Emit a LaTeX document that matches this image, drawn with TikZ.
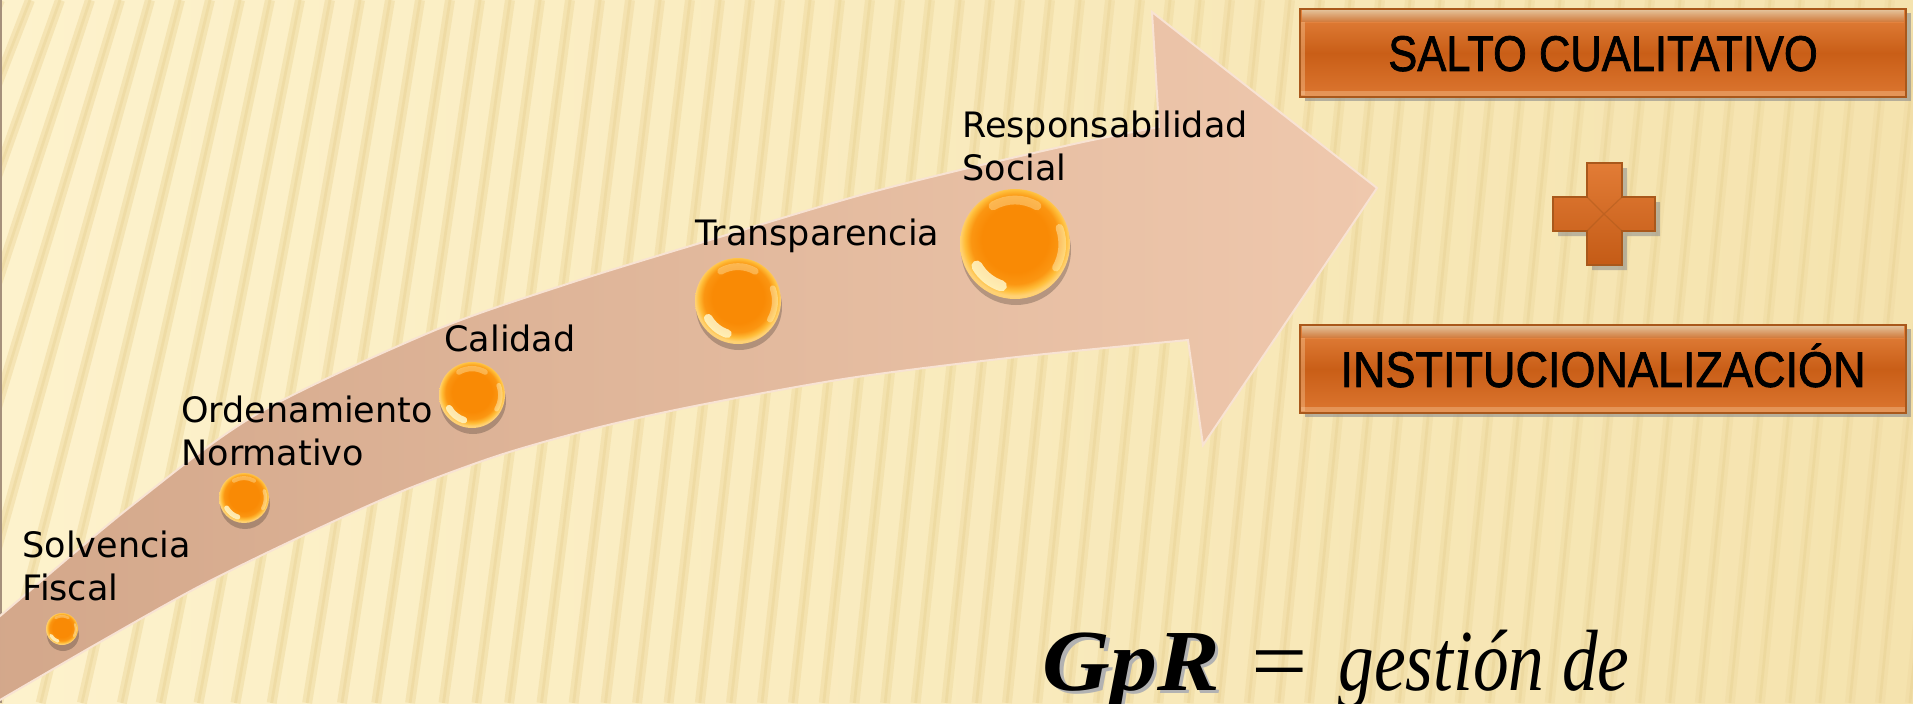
\documentclass[tikz,border=0pt]{standalone}
\usepackage{fontspec}
\setmainfont{Liberation Serif}
\newfontfamily\labelfont{DejaVu Sans}
\newfontfamily\boxfont[FakeBold=1.6]{Liberation Sans}
\usetikzlibrary{calc,shadows}

\definecolor{bgA}{HTML}{FDF2CC}
\definecolor{bgB}{HTML}{F5E3AE}
\definecolor{stripeA}{HTML}{F0DCA4}
\definecolor{stripeB}{HTML}{E6CE8E}
\definecolor{bandL}{HTML}{D3A78A}
\definecolor{bandR}{HTML}{EFC8AD}
\definecolor{bandEdge}{HTML}{F8E3D3}
\definecolor{orbC}{HTML}{F98A05}
\definecolor{orbM}{HTML}{FB9612}
\definecolor{orbE}{HTML}{FFBE3A}
\definecolor{orbShine}{HTML}{FFF6C8}
\definecolor{boxTop}{HTML}{E5843F}
\definecolor{boxMid}{HTML}{C95E17}
\definecolor{boxBot}{HTML}{DC7630}
\definecolor{boxLine}{HTML}{A9581B}
\definecolor{boxGlow}{HTML}{FAD3A6}
\definecolor{plusTop}{HTML}{E27C36}
\definecolor{plusBot}{HTML}{C45B16}

\pgfdeclareradialshading{orb}{\pgfpoint{0bp}{3bp}}{color(0bp)=(orbC); color(15bp)=(orbC); color(20bp)=(orbM); color(23bp)=(orbE); color(25bp)=(orbE!70!white); color(50bp)=(orbE)}

\tikzset{
  lbl/.style={font=\labelfont\fontsize{17.5pt}{21.5pt}\selectfont, anchor=base west, inner sep=0pt, align=left, text=black},
  orbnode/.style={circle, shading=orb, inner sep=0pt, drop shadow={shadow xshift=0.5pt, shadow yshift=-3pt, fill=black, opacity=0.22}},
  orbshine/.style={orbShine, opacity=0.85, line cap=round},
  stepbox/.style={rectangle, draw=boxLine, line width=0.8pt, minimum width=303pt, minimum height=44pt,
    top color=boxTop, bottom color=boxBot, middle color=boxMid, inner sep=0pt,
    font=\boxfont\fontsize{25pt}{28pt}\selectfont, text height=17.9pt, text depth=0pt,
    drop shadow={shadow xshift=2.5pt, shadow yshift=-2pt, fill=black!45, opacity=0.6}},
  stripe/.style={stripeA, line width=5pt, opacity=0.6},
  stripecore/.style={stripeB, line width=1.4pt, opacity=0.35}
}

\begin{document}
\begin{tikzpicture}[x=0.5pt, y=-0.5pt]
\useasboundingbox (0,0) rectangle (1913,703);
\clip (0,0) rectangle (1913,703);

% background
\fill[left color=bgA, right color=bgB] (0,0) rectangle (1913,703);
\foreach \k in {0,...,66} {
  \pgfmathsetmacro{\xt}{\k*30}
  \pgfmathsetmacro{\xb}{\xt-70-230*exp(-\xt/250)}
  \draw[stripe] (\xt,0) -- (\xb,703);
  \draw[stripecore] (\xt,0) -- (\xb,703);
}
\draw[black!45!brown!60, line width=1pt] (1,0) -- (1,703);

% curved arrow
\path[left color=bandL, right color=bandR, draw=bandEdge, line width=1pt]
  plot[smooth, tension=0.5] coordinates {(-20,633) (0,616) (130,507) (257,414) (433,331) (567,284) (700,243) (850,198) (960,170) (1083,142) (1159,127)}
  -- (1152,12) -- (1377,188) -- (1203,445) -- (1188,340)
  -- plot[smooth, tension=0.5] coordinates {(1188,340) (1017,357) (850,378) (700,405) (600,427) (500,455) (400,492) (300,537) (200,586) (100,642) (0,700) (-20,712)}
  -- cycle;

% orbs
\foreach \n/\cx/\cy/\r in {1/62/629/16, 2/244/498/25, 3/472/395/33, 4/738/301/43, 5/1015/244/55} {
  \node[orbnode, minimum size=\r pt] (c\n) at (\cx,\cy) {};
  \draw[orbshine, line width=0.1*\r pt] ($(c\n.center)+(108:0.8*\r)$) arc[start angle=108, end angle=150, radius=0.8*\r];
  \draw[orbshine, opacity=0.45, line width=0.07*\r pt] ($(c\n.center)+(-20:0.86*\r)$) arc[start angle=-20, end angle=30, radius=0.86*\r];
  \draw[orbshine, opacity=0.35, line width=0.08*\r pt] ($(c\n.center)+(-120:0.8*\r)$) arc[start angle=-120, end angle=-60, radius=0.8*\r];
}

% labels
\node[lbl] (l1) at (22,600) {Solvencia\\Fiscal};
\node[lbl] (l2) at (181,465) {Ordenamiento\\Normativo};
\node[lbl] (l3) at (444,351) {Calidad};
\node[lbl] (l4) at (695,245) {Transparencia};
\node[lbl] (l5) at (962,180) {Responsabilidad\\Social};

% boxes
\node[stepbox] (salto) at (1603,53) {\scalebox{0.87}[1]{SALTO CUALITATIVO}};
\node[stepbox] (inst) at (1603,369) {\scalebox{0.9}[1]{INSTITUCIONALIZACIÓN}};
\foreach \b in {salto,inst} {
  \fill[top color=boxGlow, bottom color=boxTop, opacity=0.9] ($(\b.north west)+(3,2)$) rectangle ($(\b.north east)+(-3,14)$);
  \fill[boxGlow, opacity=0.35] ($(\b.north west)+(2,14)$) rectangle ($(\b.south west)+(6,-3)$);
  \fill[boxGlow, opacity=0.35] ($(\b.south west)+(2,-7)$) rectangle ($(\b.south east)+(-2,-2)$);
}

% plus sign
\fill[black!45, opacity=0.55] (1592,168) -- (1627,168) -- (1627,202) -- (1660,202) -- (1660,236) -- (1627,236) -- (1627,270) -- (1592,270) -- (1592,236) -- (1558,236) -- (1558,202) -- (1592,202) -- cycle;
\draw[top color=plusTop, bottom color=plusBot, draw=boxLine, line width=0.8pt]
  (1587,163) -- (1622,163) -- (1622,197) -- (1655,197) -- (1655,231) -- (1622,231) -- (1622,265) -- (1587,265) -- (1587,231) -- (1553,231) -- (1553,197) -- (1587,197) -- cycle;
\draw[boxLine, opacity=0.45, line width=0.6pt] (1587,197) -- (1604,214) -- (1622,197) (1587,231) -- (1604,214) -- (1622,231);

% bottom formula
\node[anchor=base west, inner sep=0pt, font=\fontsize{43.5pt}{50pt}\selectfont] (gpr) at (1042,690)
  {\rlap{\hspace{1.8pt}\raisebox{-1.8pt}{\color{black!30}\scalebox{1.08}[1]{\textbf{\textit{GpR}}}}}\scalebox{1.08}[1]{\textbf{\textit{GpR}}}\hspace{16pt}\scalebox{1.15}[1]{=}\hspace{15pt}\scalebox{0.82}[1]{\textit{gestión de}}};
\end{tikzpicture}
\end{document}
